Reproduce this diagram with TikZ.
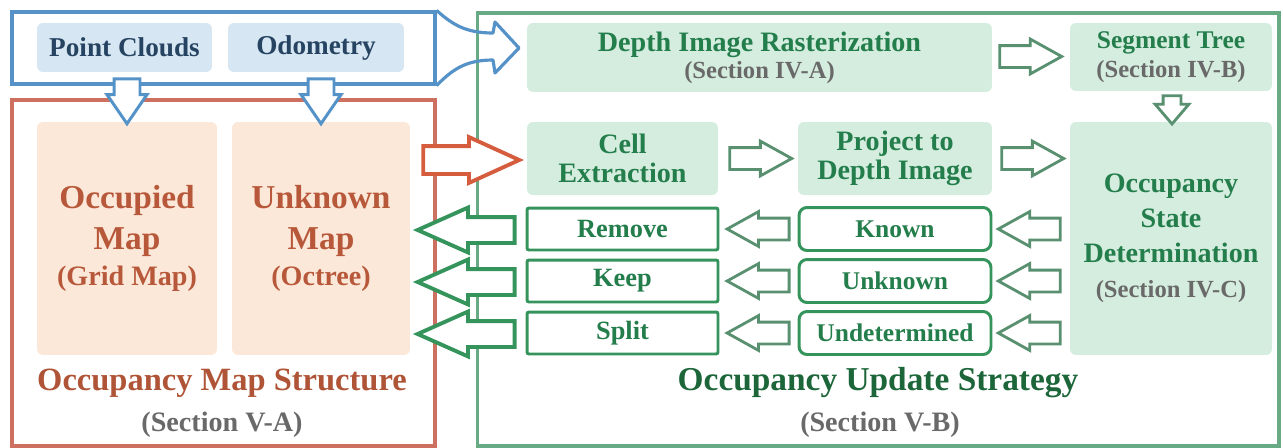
\documentclass[tikz,border=0pt]{standalone}
\usepackage{fontspec}
\setmainfont{Liberation Serif}
\usetikzlibrary{positioning,calc,shapes.arrows}

\definecolor{inblue}{RGB}{84,146,200}
\definecolor{inlight}{RGB}{214,230,242}
\definecolor{intext}{RGB}{38,68,98}
\definecolor{mapred}{RGB}{206,112,96}
\definecolor{maplight}{RGB}{252,232,217}
\definecolor{maptext}{RGB}{184,88,58}
\definecolor{updgreen}{RGB}{104,170,132}
\definecolor{updlight}{RGB}{213,237,223}
\definecolor{updtext}{RGB}{36,126,76}
\definecolor{upddark}{RGB}{28,102,58}
\definecolor{arrgreen}{RGB}{52,148,92}
\definecolor{arrred}{RGB}{214,92,62}
\definecolor{secgray}{RGB}{105,105,105}

\newcommand{\fs}[2]{\fontsize{#1}{#2}\selectfont\bfseries}

\begin{document}
\begin{tikzpicture}[x=0.02cm, y=-0.02cm,
    frame/.style={rectangle, line width=1.8pt},
    infill/.style={rectangle, rounded corners=0.12cm, fill=inlight, text=intext,
        minimum height=0.98cm, font=\fs{15.5}{18}},
    mapfill/.style={rectangle, rounded corners=0.12cm, fill=maplight, text=maptext,
        minimum height=4.66cm, align=center, font=\fs{19}{23.3}},
    updfill/.style={rectangle, rounded corners=0.12cm, fill=updlight, text=updtext,
        align=center},
    action/.style={rectangle, rounded corners=0.04cm, draw=arrgreen, line width=1.7pt,
        fill=white, text=updtext, minimum width=3.82cm, minimum height=0.84cm, font=\fs{15}{18}},
    cellstate/.style={rectangle, rounded corners=0.16cm, draw=arrgreen, line width=1.7pt,
        fill=white, text=updtext, minimum width=3.84cm, minimum height=0.86cm, font=\fs{14.5}{17}},
    smallarrow/.style={single arrow, draw=updgreen!85!black, fill=white, line width=1.6pt,
        inner sep=0.19cm, single arrow head extend=0.13cm, single arrow tip angle=58,
        minimum height=1.24cm, minimum width=0.64cm, anchor=tail},
    bigarrow/.style={single arrow, draw=arrgreen, fill=white, line width=2.2pt,
        inner sep=0.22cm, single arrow head extend=0.19cm, single arrow tip angle=48,
        minimum height=1.94cm, minimum width=0.82cm, shape border rotate=180, anchor=tail},
    downarrow/.style={single arrow, draw=inblue, fill=white, line width=1.7pt,
        inner sep=0.23cm, single arrow head extend=0.14cm, single arrow tip angle=69,
        minimum height=0.84cm, minimum width=0.74cm, shape border rotate=270, anchor=tail}
    ]
    \useasboundingbox (0,0) rectangle (1283,447);

    % frames
    \node[frame, draw=inblue, minimum width=8.46cm, minimum height=1.44cm] (inputs) at (223.5,48) {};
    \node[frame, draw=mapred, minimum width=8.46cm, minimum height=6.92cm] (mapframe) at (223.5,273) {};
    \node[frame, draw=updgreen, minimum width=16.04cm, minimum height=8.66cm] (updframe) at (878,229.5) {};

    % inputs
    \node[infill, minimum width=3.5cm] (pc) at (124.5,47.5) {Point Clouds};
    \node[infill, minimum width=3.52cm] (odom) at (316,47.5) {Odometry};

    % map structure
    \node[mapfill, minimum width=3.6cm] (occ) at (127,238.5)
        {Occupied\\Map\\[-3pt]{\fs{16}{20}(Grid Map)}};
    \node[mapfill, minimum width=3.56cm] (unk) at (321,238.5)
        {Unknown\\Map\\[-3pt]{\fs{16}{20}(Octree)}};
    \node[font=\fs{18.5}{22}, text=maptext!95!black] (maptitle) at (222,383) {Occupancy Map Structure};
    \node[font=\fs{16}{18}, text=secgray] (mapsec) at (222,425) {(Section V-A)};

    % update strategy
    \node[updfill, minimum width=9.3cm, minimum height=1.38cm, font=\fs{16}{15.4}] (raster) at (759.5,57.5)
        {Depth Image Rasterization\\{\fs{14}{15.4}\color{secgray}(Section IV-A)}};
    \node[updfill, minimum width=4.04cm, minimum height=1.36cm, font=\fs{14.5}{16.5}] (segtree) at (1171,57)
        {Segment Tree\\{\fs{14}{16.5}\color{secgray}(Section IV-B)}};
    \node[updfill, minimum width=3.82cm, minimum height=1.46cm, font=\fs{16}{16.5}] (cell) at (622.5,158.5)
        {Cell\\Extraction};
    \node[updfill, minimum width=3.88cm, minimum height=1.46cm, font=\fs{16}{16.5}] (proj) at (895,158.5)
        {Project to\\Depth Image};
    \node[updfill, minimum width=4.04cm, minimum height=4.66cm, font=\fs{16}{20}] (state) at (1171,238.5)
        {Occupancy\\State\\Determination\\{\fs{14}{18}\color{secgray}(Section IV-C)}};

    \node[action] (remove) at (622.5,229) {Remove};
    \node[action] (keep) at (622.5,281) {Keep};
    \node[action] (split) at (622.5,333) {Split};
    \node[cellstate] (known) at (895,229) {Known};
    \node[cellstate] (unknown) at (895,281) {Unknown};
    \node[cellstate] (undet) at (895,333) {Undetermined};

    \node[font=\fs{19}{22}, text=upddark] (updtitle) at (878,383) {Occupancy Update Strategy};
    \node[font=\fs{16}{18}, text=secgray] (updsec) at (880,425) {(Section V-B)};

    % block arrows
    \node[downarrow] (pcdown) at ($(occ.north |- pc.south)+(0,5)$) {};
    \node[downarrow] (odomdown) at ($(unk.north |- odom.south)+(0,5)$) {};
    \node[single arrow, draw=arrred, fill=white, line width=2.2pt, inner sep=0.24cm,
        single arrow head extend=0.18cm, single arrow tip angle=49,
        minimum height=1.92cm, minimum width=0.84cm, anchor=tail] (cellin) at ($(unk.east |- cell.west)+(11,1.5)$) {};
    \node[smallarrow] (r2s) at ($(raster.east)+(6,-1)$) {};
    \node[smallarrow, shape border rotate=270, inner sep=0.15cm, single arrow head extend=0.16cm,
        single arrow tip angle=81, minimum height=0.5cm] (s2o) at ($(segtree.south)+(1,3)$) {};
    \node[smallarrow] (c2p) at ($(cell.east)+(10,0)$) {};
    \node[smallarrow] (p2o) at ($(proj.east)+(8,0)$) {};
    \foreach \a/\b in {known/remove, unknown/keep, undet/split}{
        \node[smallarrow, shape border rotate=180] (o2\a) at ($(\a.east -| state.west)+(-8,0)$) {};
        \node[smallarrow, shape border rotate=180] (\a2\b) at ($(\a.west)+(-7,0)$) {};
        \node[bigarrow] (\b out) at ($(\b.west)+(-9,1)$) {};
    }

    % callout from the inputs
    \draw[inblue, line width=1.8pt, line join=round] (inputs.north east)
        .. controls (452,24) and (465,33) .. (493,33) -- (495,22) -- (519,48) -- (495,73)
        -- (493,60) .. controls (465,60) and (452,70) .. (inputs.south east);
\end{tikzpicture}
\end{document}
